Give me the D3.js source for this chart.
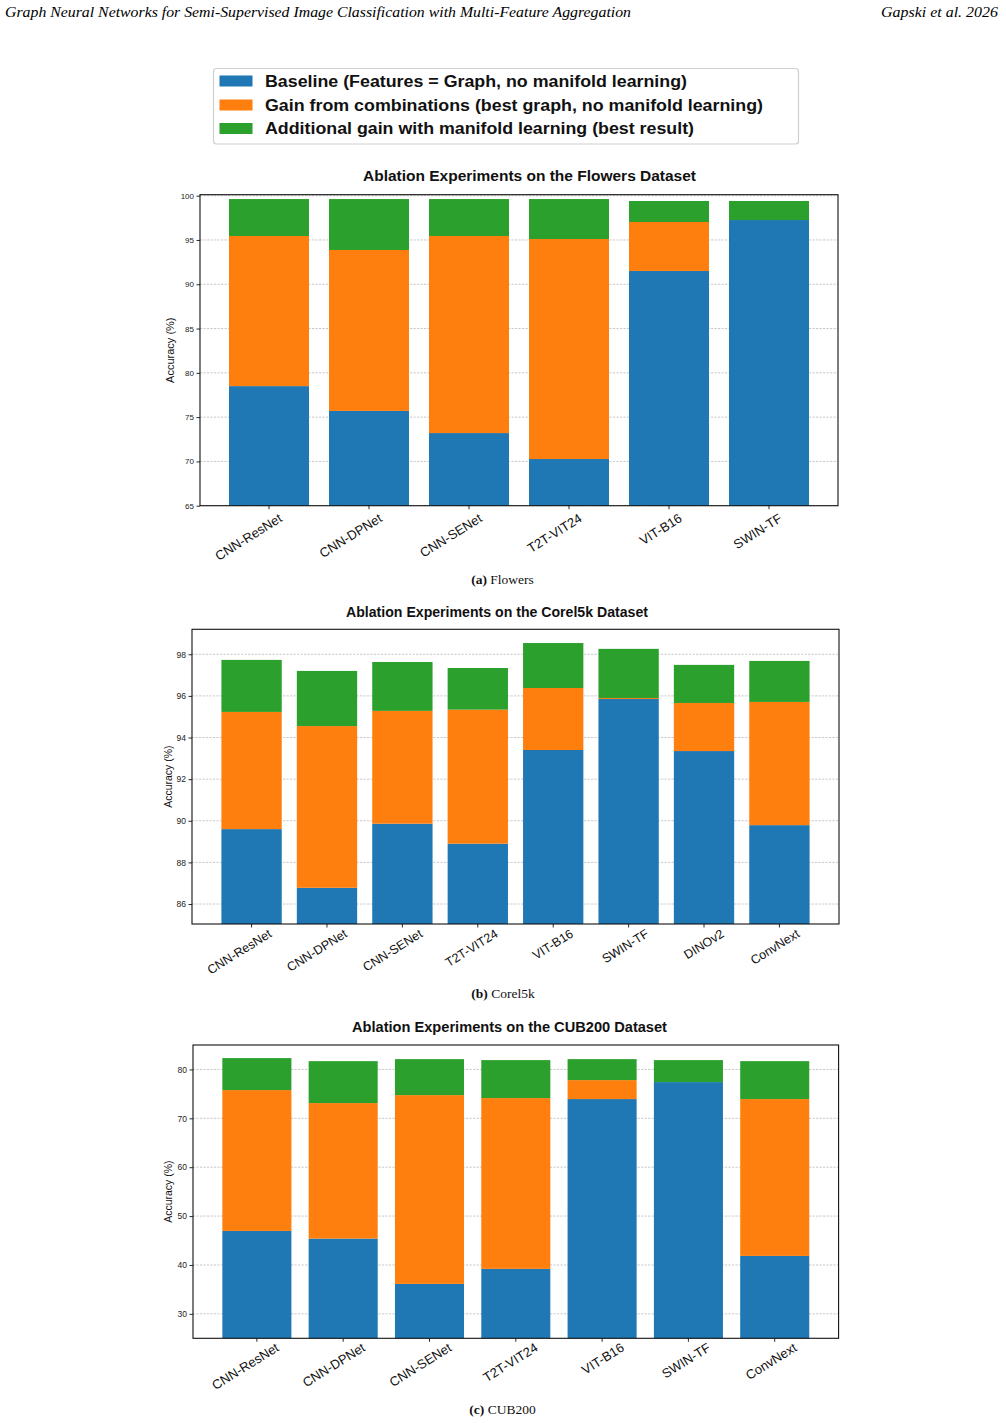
<!DOCTYPE html>
<html><head><meta charset="utf-8">
<script src="https://cdn.jsdelivr.net/npm/d3@7"></script>
<style>body{margin:0;background:#fff} svg{display:block}</style>
</head><body>
<svg id="c" width="1006" height="1423"></svg>
<script>
const seriesNames = [
  "Baseline (Features = Graph, no manifold learning)",
  "Gain from combinations (best graph, no manifold learning)",
  "Additional gain with manifold learning (best result)"
];
const seriesColors = ["#1f77b4", "#ff7f0e", "#2ca02c"];

const flowersCategories = ["CNN-ResNet", "CNN-DPNet", "CNN-SENet", "T2T-VIT24", "VIT-B16", "SWIN-TF"];
const flowersBaseline   = [78.5, 75.7, 73.2, 70.27, 91.5, 97.25];
const flowersBestGraph  = [95.45, 93.87, 95.45, 95.11, 97.03, 97.25];
const flowersBestResult = [99.62, 99.62, 99.62, 99.62, 99.4, 99.4];
const flowersYTicks = [65, 70, 75, 80, 85, 90, 95, 100];

const corelCategories = ["CNN-ResNet", "CNN-DPNet", "CNN-SENet", "T2T-VIT24", "VIT-B16", "SWIN-TF", "DINOv2", "ConvNext"];
const corelBaseline   = [89.60, 86.78, 89.86, 88.90, 93.40, 95.85, 93.35, 89.79];
const corelBestGraph  = [95.23, 94.55, 95.28, 95.34, 96.38, 95.90, 95.66, 95.71];
const corelBestResult = [97.73, 97.20, 97.63, 97.34, 98.54, 98.26, 97.49, 97.68];
const corelYTicks = [86, 88, 90, 92, 94, 96, 98];

const cubCategories = ["CNN-ResNet", "CNN-DPNet", "CNN-SENet", "T2T-VIT24", "VIT-B16", "SWIN-TF", "ConvNext"];
const cubBaseline   = [46.96, 45.40, 36.13, 39.20, 73.94, 77.41, 41.85];
const cubBestGraph  = [75.78, 73.12, 74.75, 74.14, 77.82, 77.41, 73.94];
const cubBestResult = [82.32, 81.70, 82.11, 81.91, 82.11, 81.91, 81.70];
const cubYTicks = [30, 40, 50, 60, 70, 80];

const svg = d3.select("#c");
const SANS = "'Liberation Sans', Arial, sans-serif";
const SERIF = "'Liberation Serif', 'Times New Roman', serif";

// Header
svg.append("text").attr("x", 5).attr("y", 17)
  .attr("font-family", SERIF).attr("font-style", "italic").attr("font-size", 14)
  .attr("textLength", 626).attr("lengthAdjust", "spacingAndGlyphs")
  .text("Graph Neural Networks for Semi-Supervised Image Classification with Multi-Feature Aggregation");
svg.append("text").attr("x", 998).attr("y", 17).attr("text-anchor", "end")
  .attr("font-family", SERIF).attr("font-style", "italic").attr("font-size", 14)
  .attr("textLength", 117).attr("lengthAdjust", "spacingAndGlyphs")
  .text("Gapski et al. 2026");

// Legend
const legend = svg.append("g");
legend.append("rect").attr("x", 213.5).attr("y", 68.5).attr("width", 585).attr("height", 75.5)
  .attr("rx", 3).attr("fill", "#fff").attr("stroke", "#cfcfcf").attr("stroke-width", 1.2);
const legendRows = [81, 105, 128.5];
const legendLens = [422, 498, 429];
seriesNames.forEach((name, i) => {
  legend.append("rect").attr("x", 219.5).attr("y", legendRows[i] - 5.5).attr("width", 33).attr("height", 11)
    .attr("fill", seriesColors[i]);
  legend.append("text").attr("x", 265).attr("y", legendRows[i] + 5.8)
    .attr("font-family", SANS).attr("font-weight", "bold").attr("font-size", 16.3)
    .attr("textLength", legendLens[i]).attr("lengthAdjust", "spacingAndGlyphs")
    .attr("fill", "#111").text(name);
});

const panels = [
  { cats: flowersCategories, base: flowersBaseline, graph: flowersBestGraph, best: flowersBestResult,
    ticks: flowersYTicks, domain: [65, 100.11], left: 200, right: 838, top: 194.7, bottom: 505.7,
    title: "Ablation Experiments on the Flowers Dataset", titleX: 529.5, titleY: 181, titleLen: 333,
    capA: "(a)", capB: " Flowers", capX: 502.5, capY: 584,
    labDx: 14, labDy: 15, labFs: 13, tickFs: 8, ylabFs: 11, ylabX: 170 },
  { cats: corelCategories, base: corelBaseline, graph: corelBestGraph, best: corelBestResult,
    ticks: corelYTicks, domain: [85.04, 99.2], left: 192, right: 839, top: 629.3, bottom: 924,
    title: "Ablation Experiments on the Corel5k Dataset", titleX: 497, titleY: 617, titleLen: 302,
    capA: "(b)", capB: " Corel5k", capX: 503, capY: 998,
    labDx: 21, labDy: 12, labFs: 12.5, tickFs: 8.5, ylabFs: 10.5, ylabX: 168 },
  { cats: cubCategories, base: cubBaseline, graph: cubBestGraph, best: cubBestResult,
    ticks: cubYTicks, domain: [25, 85], left: 193, right: 838.6, top: 1045, bottom: 1338.3,
    title: "Ablation Experiments on the CUB200 Dataset", titleX: 509.5, titleY: 1032, titleLen: 315,
    capA: "(c)", capB: " CUB200", capX: 502.5, capY: 1414,
    labDx: 23, labDy: 11.7, labFs: 13, tickFs: 8.5, ylabFs: 10.5, ylabX: 168 }
];

panels.forEach(p => {
  const g = svg.append("g");
  const n = p.cats.length;
  const x = d3.scaleBand().domain(p.cats).range([p.left, p.right])
    .paddingInner(0.2).paddingOuter(0.05 * (n - 0.2)).align(0.5);
  const y = d3.scaleLinear().domain(p.domain).range([p.bottom, p.top]).clamp(true);

  // grid
  g.append("g").selectAll("line").data(p.ticks).join("line")
    .attr("x1", p.left).attr("x2", p.right)
    .attr("y1", d => y(d)).attr("y2", d => y(d))
    .attr("stroke", "#b0b0b0").attr("stroke-width", 0.7).attr("stroke-dasharray", "2.2,1.3");

  // stacked bars
  const rows = p.cats.map((c, i) => ({
    cat: c, baseline: p.base[i], gain: p.graph[i] - p.base[i], extra: p.best[i] - p.graph[i]
  }));
  const stack = d3.stack().keys(["baseline", "gain", "extra"]);
  const layers = stack(rows);
  g.append("g").selectAll("g").data(layers).join("g")
    .attr("fill", (d, i) => seriesColors[i])
    .selectAll("rect").data(d => d).join("rect")
    .attr("x", d => x(d.data.cat)).attr("width", x.bandwidth())
    .attr("y", d => y(d[1])).attr("height", d => Math.max(0, y(d[0]) - y(d[1])));

  // frame
  g.append("rect").attr("x", p.left).attr("y", p.top)
    .attr("width", p.right - p.left).attr("height", p.bottom - p.top)
    .attr("fill", "none").attr("stroke", "#111").attr("stroke-width", 1.1);

  // y axis
  const yAxis = d3.axisLeft(y).tickValues(p.ticks).tickSize(3.5).tickPadding(2.5).tickFormat(d3.format("d"));
  const ya = g.append("g").attr("transform", `translate(${p.left},0)`).call(yAxis);
  ya.select(".domain").remove();
  ya.selectAll("line").attr("stroke", "#111").attr("stroke-width", 0.9);
  ya.selectAll("text").attr("font-family", SANS).attr("font-size", p.tickFs).attr("fill", "#222");

  // x axis ticks
  const xAxis = d3.axisBottom(x).tickSize(3.5).tickFormat("");
  const xa = g.append("g").attr("transform", `translate(0,${p.bottom})`).call(xAxis);
  xa.select(".domain").remove();
  xa.selectAll("line").attr("stroke", "#111").attr("stroke-width", 0.9);

  // rotated x labels
  g.append("g").selectAll("text").data(p.cats).join("text")
    .attr("transform", d => `translate(${x(d) + x.bandwidth() / 2 + p.labDx},${p.bottom + p.labDy}) rotate(-32)`)
    .attr("text-anchor", "end")
    .attr("font-family", SANS).attr("font-size", p.labFs).attr("fill", "#111")
    .text(d => d);

  // y label
  g.append("text")
    .attr("transform", `translate(${p.ylabX},${(p.top + p.bottom) / 2}) rotate(-90)`)
    .attr("text-anchor", "middle").attr("dy", "0.35em")
    .attr("font-family", SANS).attr("font-size", p.ylabFs).attr("fill", "#111")
    .text("Accuracy (%)");

  // title
  g.append("text").attr("x", p.titleX).attr("y", p.titleY).attr("text-anchor", "middle")
    .attr("font-family", SANS).attr("font-weight", "bold").attr("font-size", 14)
    .attr("textLength", p.titleLen).attr("lengthAdjust", "spacingAndGlyphs")
    .attr("fill", "#111").text(p.title);

  // caption
  const cap = g.append("text").attr("x", p.capX).attr("y", p.capY).attr("text-anchor", "middle")
    .attr("font-family", SERIF).attr("font-size", 13.5).attr("fill", "#111");
  cap.append("tspan").attr("font-weight", "bold").text(p.capA);
  cap.append("tspan").text(p.capB);
});
</script>
</body></html>
